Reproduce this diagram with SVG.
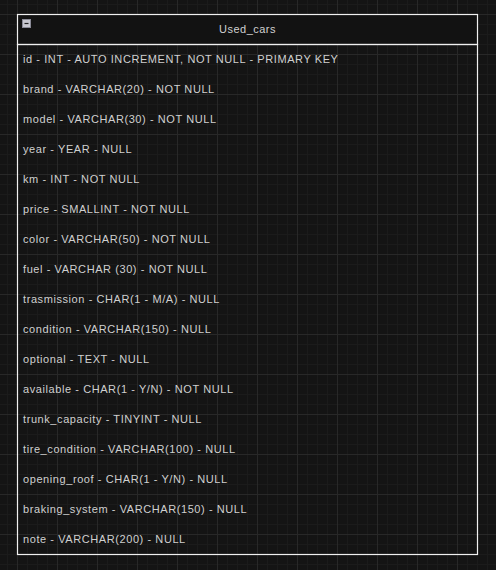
<svg xmlns="http://www.w3.org/2000/svg" width="496" height="570" viewBox="0 0 496 570">
<style>
.row{font-family:"Liberation Sans",Arial,sans-serif;font-size:11px;fill:#d0d0d0;letter-spacing:0.58px}
.hdr{font-family:"Liberation Sans",Arial,sans-serif;font-size:11px;fill:#d0d0d0;text-anchor:middle;letter-spacing:0.5px}
</style>
<defs>
<pattern id="minor" x="17" y="14" width="10" height="10" patternUnits="userSpaceOnUse">
<path d="M0 0.5H10M0.5 0V10" stroke="#1b1b1b" stroke-width="1" fill="none"/>
</pattern>
<pattern id="major" x="17" y="14" width="40" height="40" patternUnits="userSpaceOnUse">
<path d="M0 0.5H40M0.5 0V40" stroke="#282828" stroke-width="1" fill="none"/>
</pattern>
</defs>
<rect width="496" height="570" fill="#141414"/>
<rect width="496" height="570" fill="url(#minor)"/>
<rect width="496" height="570" fill="url(#major)"/>
<g id="used_cars">
<rect x="17.5" y="14.5" width="460" height="30" fill="#121212" stroke="#f0f0f0" stroke-width="1.2"/>
<rect x="17.5" y="44.5" width="460" height="510" fill="none" stroke="#f0f0f0" stroke-width="1.2"/>
<rect x="22.5" y="19.5" width="8" height="8" fill="#c8c8d0" stroke="#8a8a96" stroke-width="1"/>
<line x1="24.5" y1="23.5" x2="28.5" y2="23.5" stroke="#222" stroke-width="1.2"/>
<text class="hdr" x="247.5" y="33">Used_cars</text>
<text class="row" x="23" y="63">id - INT - AUTO INCREMENT, NOT NULL - PRIMARY KEY</text>
<text class="row" x="23" y="93">brand - VARCHAR(20) - NOT NULL</text>
<text class="row" x="23" y="123">model - VARCHAR(30) - NOT NULL</text>
<text class="row" x="23" y="153">year - YEAR - NULL</text>
<text class="row" x="23" y="183">km - INT - NOT NULL</text>
<text class="row" x="23" y="213">price - SMALLINT - NOT NULL</text>
<text class="row" x="23" y="243">color - VARCHAR(50) - NOT NULL</text>
<text class="row" x="23" y="273">fuel - VARCHAR (30) - NOT NULL</text>
<text class="row" x="23" y="303">trasmission - CHAR(1 - M/A) - NULL</text>
<text class="row" x="23" y="333">condition - VARCHAR(150) - NULL</text>
<text class="row" x="23" y="363">optional - TEXT - NULL</text>
<text class="row" x="23" y="393">available - CHAR(1 - Y/N) - NOT NULL</text>
<text class="row" x="23" y="423">trunk_capacity - TINYINT - NULL</text>
<text class="row" x="23" y="453">tire_condition - VARCHAR(100) - NULL</text>
<text class="row" x="23" y="483">opening_roof - CHAR(1 - Y/N) - NULL</text>
<text class="row" x="23" y="513">braking_system - VARCHAR(150) - NULL</text>
<text class="row" x="23" y="543">note - VARCHAR(200) - NULL</text>
</g>
</svg>
